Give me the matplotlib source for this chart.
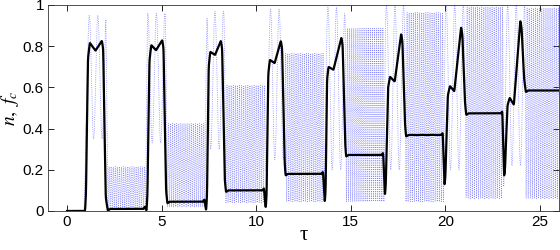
import numpy as np
import matplotlib
matplotlib.use("Agg")
import matplotlib.pyplot as plt

plt.rcParams["mathtext.fontset"] = "stix"

# black curve: key points of each pulse
pulse_on = [0.95, 4.20, 7.35, 10.50, 13.62, 16.80, 19.95, 23.10]
dip_y = [0.000, 0.000, 0.000, 0.010, 0.037, 0.070, 0.118, 0.162]
peak1_t = [1.20, 4.45, 7.57, 10.72, 13.82, 17.07, 20.24, 23.40]
peak1_y = [0.817, 0.806, 0.773, 0.734, 0.700, 0.652, 0.607, 0.550]
mid_t = [1.50, 4.70, 7.82, 10.97, 14.08, 17.32, 20.47, 23.62]
mid_y = [0.778, 0.780, 0.757, 0.717, 0.685, 0.628, 0.580, 0.515]
peak2_t = [1.84, 5.03, 8.13, 11.30, 14.50, 17.66, 20.83, 23.96]
peak2_y = [0.827, 0.830, 0.827, 0.827, 0.843, 0.862, 0.895, 0.927]
pulse_off = [2.15, 5.30, 8.40, 11.55, 14.75, 17.92, 21.10, 24.25]
level = [0.010, 0.045, 0.100, 0.180, 0.272, 0.369, 0.474, 0.585]

# blue curve: envelope of the fast oscillation on each plateau and pulse
blue_lo = [0.010, 0.020, 0.040, 0.045, 0.045, 0.045, 0.060, 0.060]
blue_hi = [0.215, 0.425, 0.610, 0.765, 0.887, 0.963, 0.990, 0.985]
pulse_lo = [0.35, 0.33, 0.30, 0.25, 0.20, 0.20, 0.20, 0.22]
pulse_hi = [0.95, 0.96, 0.97, 0.98, 0.99, 1.00, 1.00, 1.00]
period_flat = 0.11
period_pulse = 0.45

t_end = 26.0
dt = 0.002
t = np.arange(0, t_end + dt, dt)

# build black curve through key points, then smooth a little
kt, ky = [0.0], [0.0]
prev = 0.0
for k in range(len(pulse_on)):
    if k > 0:
        kt += [pulse_on[k] - 0.16, pulse_on[k] - 0.09]
        ky += [prev, prev + 0.012]
    else:
        kt += [pulse_on[k] - 0.05]
        ky += [prev]
    rise = peak1_t[k] - pulse_on[k]
    kt += [pulse_on[k], pulse_on[k] + 0.05, pulse_on[k] + 0.6 * rise, peak1_t[k], mid_t[k],
           peak2_t[k], peak2_t[k] + 0.07, peak2_t[k] + 0.2, pulse_off[k], pulse_off[k] + 0.12]
    ky += [dip_y[k], dip_y[k] + 0.1 * (peak1_y[k] - dip_y[k]),
           dip_y[k] + 0.9 * (peak1_y[k] - dip_y[k]), peak1_y[k], mid_y[k],
           peak2_y[k], peak2_y[k] - 0.04, level[k] + 0.06, level[k] - 0.008, level[k]]
    prev = level[k]
kt.append(t_end)
ky.append(prev)
black = np.interp(t, kt, ky)
g = np.arange(-20, 21) * dt
w = np.exp(-0.5 * (g / 0.01) ** 2)
w /= w.sum()
black = np.convolve(np.pad(black, 20, mode="edge"), w, mode="valid")

# envelope and period of the blue oscillation
et, elo, ehi, ep = [0.0, 0.8], [0.0, 0.0], [0.0, 0.0], [period_flat, period_flat]
plo, phi = 0.0, 0.0
for k in range(len(pulse_on)):
    et += [pulse_on[k] - 0.05, pulse_on[k] + 0.05, pulse_off[k] - 0.1, pulse_off[k]]
    elo += [plo, pulse_lo[k], pulse_lo[k], blue_lo[k]]
    ehi += [phi, pulse_hi[k], pulse_hi[k], blue_hi[k]]
    ep += [period_flat, period_pulse, period_pulse, period_flat]
    plo, phi = blue_lo[k], blue_hi[k]
et.append(t_end)
elo.append(plo)
ehi.append(phi)
ep.append(period_flat)
lo = np.interp(t, et, elo)
hi = np.interp(t, et, ehi)
phase = 2 * np.pi * np.cumsum(dt / np.interp(t, et, ep))
blue = 0.5 * (lo + hi) + 0.5 * (hi - lo) * np.cos(phase)

fig = plt.figure(figsize=(5.6, 2.5), dpi=100)
ax = fig.add_axes([0.086, 0.156, 0.912, 0.824])
ax.plot(t, blue, color="#5050ff", lw=0.6, ls=":", alpha=0.7)
ax.plot(t, black, color="k", lw=1.6)

ax.set_xlim(-1, 26)
ax.set_ylim(0, 1)
ax.set_xticks([0, 5, 10, 15, 20, 25])
ax.set_yticks([0, 0.2, 0.4, 0.6, 0.8, 1])
ax.set_yticklabels(["0", "0.2", "0.4", "0.6", "0.8", "1"])
ax.tick_params(direction="in", top=True, right=True, length=4, width=0.6,
               labelsize=11, pad=3)
for lab in ax.get_xticklabels() + ax.get_yticklabels():
    lab.set_fontfamily("Liberation Sans")
for s in ax.spines.values():
    s.set_linewidth(0.6)
    s.set_color("#333333")

ax.set_ylabel(r"$n,\ f_c$", fontsize=14, labelpad=1)
ax.set_xlabel("τ", fontsize=15, family="Liberation Serif", labelpad=-2)

fig.savefig("out.png", dpi=100)
